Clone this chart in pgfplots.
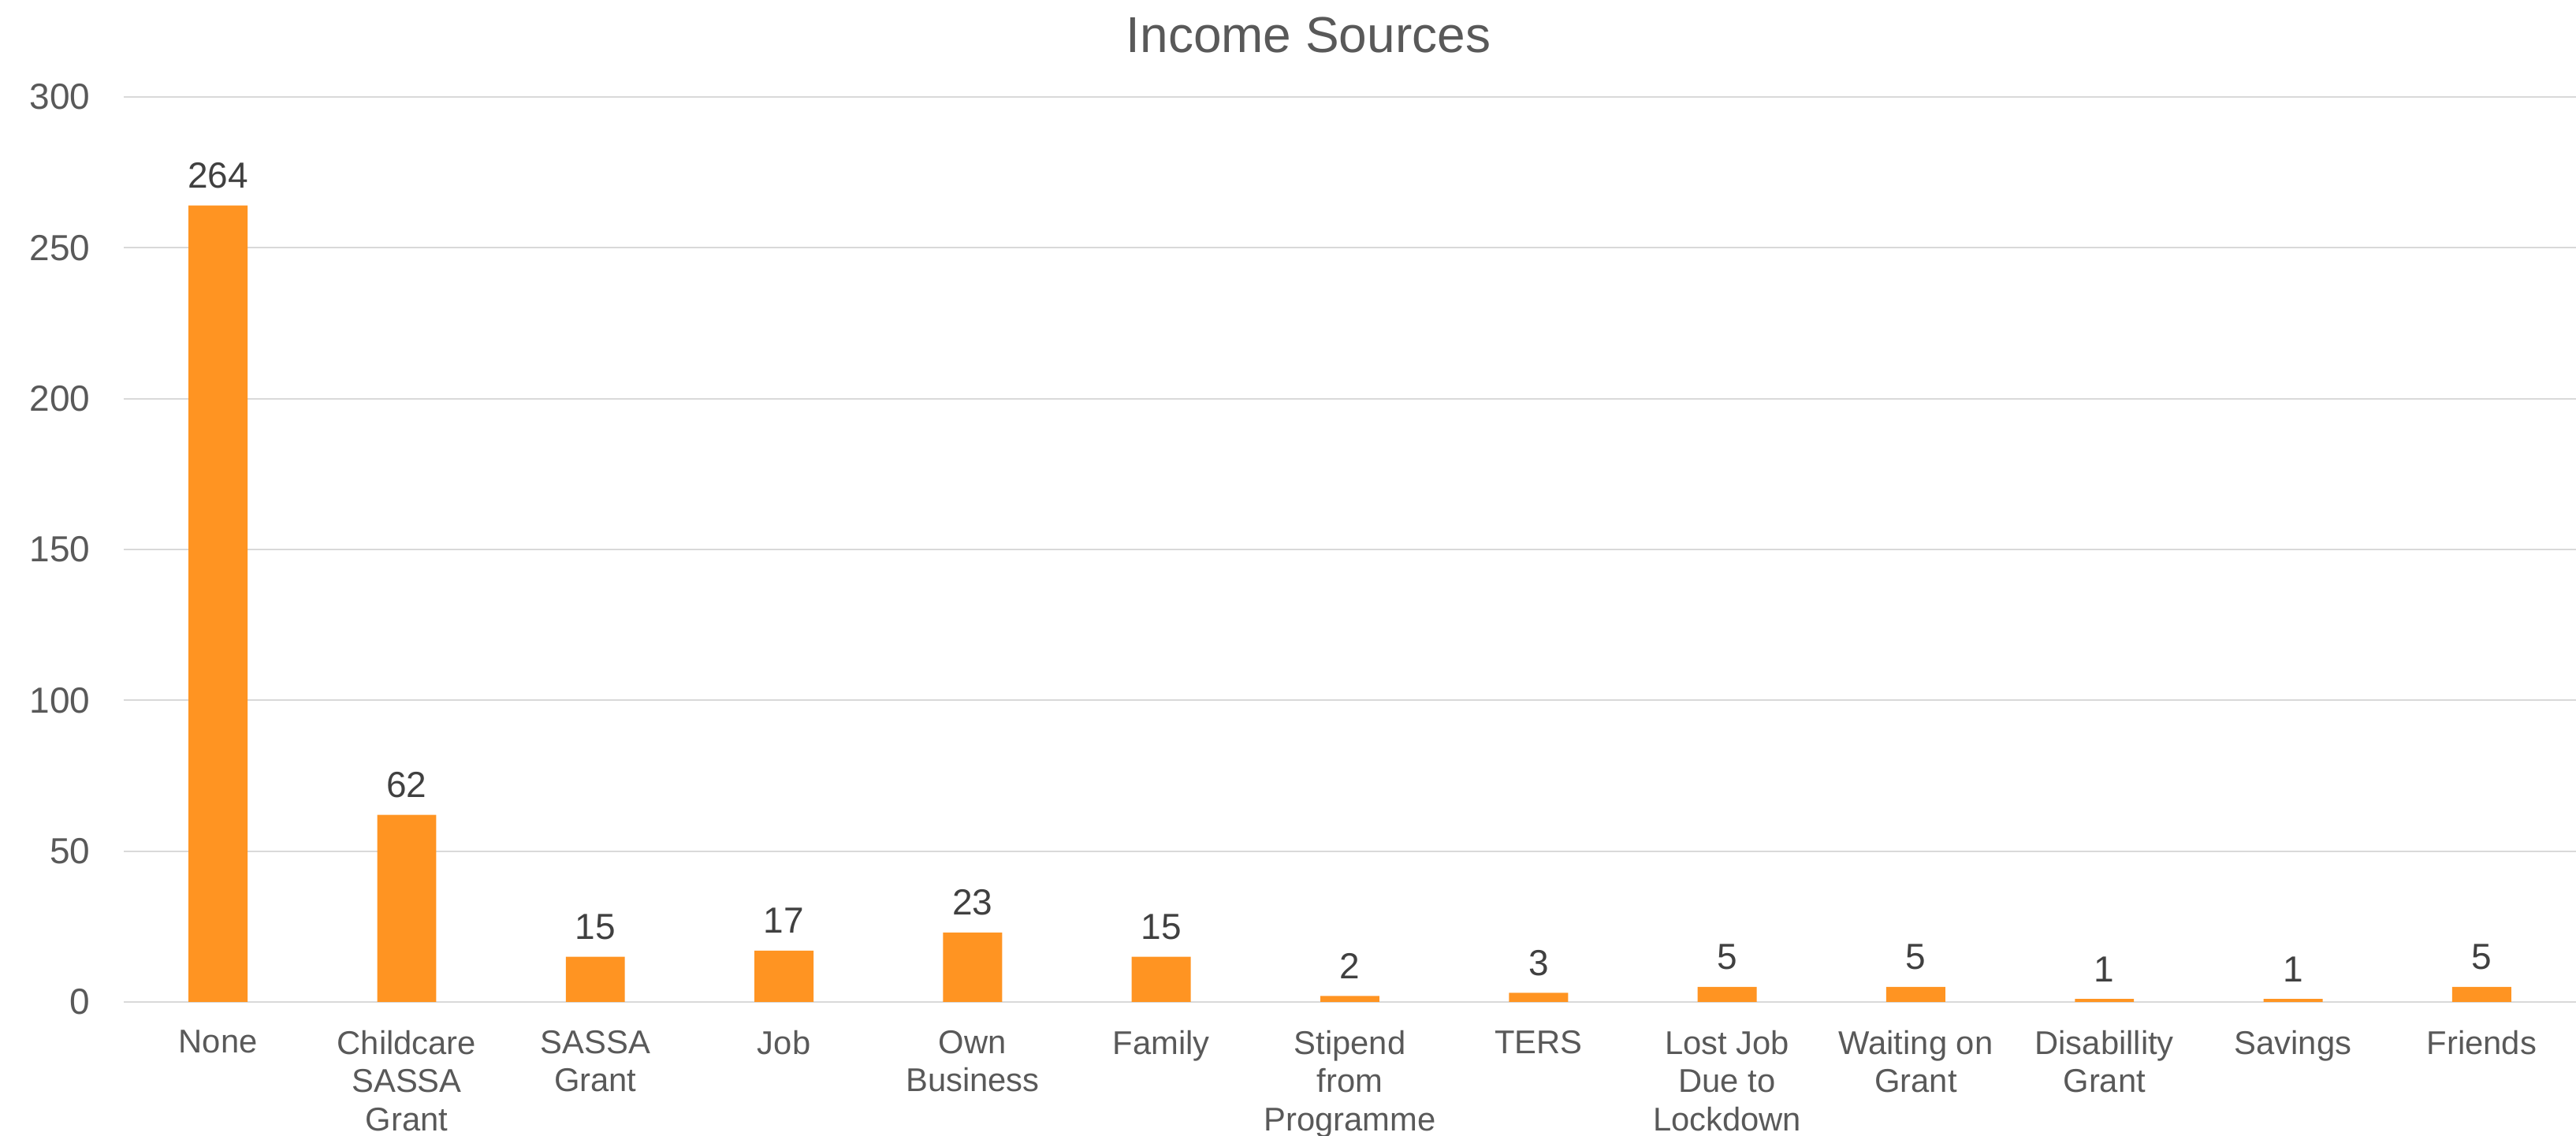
\documentclass[border=0pt]{standalone}
\usepackage{pgfplots}
\pgfplotsset{compat=1.18}
\usepackage{fontspec}
\setmainfont{Liberation Sans}
\definecolor{barorange}{RGB}{255,148,34}
\definecolor{gridgray}{RGB}{217,217,217}
\definecolor{ticktext}{RGB}{89,89,89}
\definecolor{labeltext}{RGB}{64,64,64}
\begin{document}
\begin{tikzpicture}
\begin{axis}[
  scale only axis,
  width=622.2pt, height=229.6pt,
  xmin=-0.5, xmax=12.5,
  ymin=0, ymax=300,
  ytick={0,50,100,150,200,250,300},
  xtick={0,1,2,3,4,5,6,7,8,9,10,11,12},
  xticklabels={{None},{Childcare\\SASSA\\Grant},{SASSA\\Grant},{Job},{Own\\Business},{Family},{Stipend\\from\\Programme},{TERS},{Lost Job\\Due to\\Lockdown},{Waiting on\\Grant},{Disabillity\\Grant},{Savings},{Friends}},
  major tick length=0pt,
  axis line style={draw=none},
  ymajorgrids,
  grid style={draw=gridgray, line width=0.45pt},
  /pgf/number format/assume math mode=true,
  yticklabel style={font=\fontsize{9.2}{9.8}\selectfont, text=ticktext, anchor=east, inner sep=0pt, xshift=-8.3pt},
  xticklabel style={font=\fontsize{8.35}{9.7}\selectfont, text=ticktext, anchor=north, align=center, inner sep=0pt, yshift=-7pt},
  every axis title shift=0pt,
  title={Income Sources},
  title style={at={(rel axis cs:0.4831,1)}, anchor=base, yshift=11.2pt, font=\fontsize{12.8}{14}\selectfont, text=ticktext, inner sep=0pt},
  nodes near coords,
  every node near coord/.append style={font=\fontsize{9.2}{9.8}\selectfont, text=labeltext, anchor=base, inner sep=0pt, yshift=4.4pt},
]
\addplot[ybar, bar width=0.313, fill=barorange, draw=none] coordinates {
  (0,264) (1,62) (2,15) (3,17) (4,23) (5,15) (6,2) (7,3) (8,5) (9,5) (10,1) (11,1) (12,5)
};
\end{axis}
\pgfresetboundingbox
\path ([xshift=-31.4pt,yshift=-34pt]current axis.south west) rectangle ([yshift=24.6pt]current axis.north east);
\end{tikzpicture}
\end{document}
